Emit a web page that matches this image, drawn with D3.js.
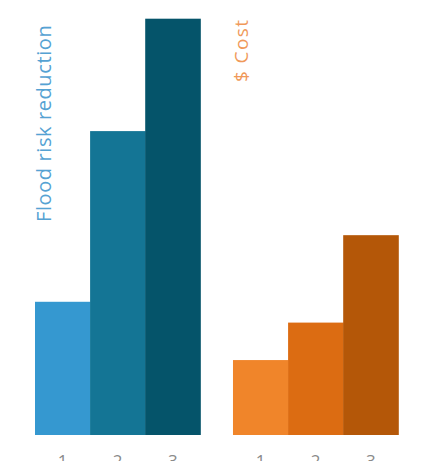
<!DOCTYPE html>
<html>
<head>
<meta charset="utf-8">
<script src="https://cdn.jsdelivr.net/npm/d3@7"></script>
<style>
  html, body { margin: 0; padding: 0; background: #ffffff; }
  svg { display: block; }
</style>
</head>
<body>
<svg id="chart" width="436" height="461"></svg>
<script>
// Two grouped bar sets: flood risk reduction vs. cost, for options 1–3
const groups = ["Flood risk reduction", "$ Cost"];
const options = ["1", "2", "3"];
const floodValues = [32, 73, 100];
const costValues = [18, 27, 48];
const floodColors = ["#3598d0", "#147595", "#05546a"];
const costColors = ["#f0852a", "#dc6c12", "#b45708"];
const titleColors = ["#55a2d3", "#f0995a"];

const seriesValues = [floodValues, costValues];
const seriesColors = [floodColors, costColors];

// per-title typography
const titleSize = [20, 19];
const titleSpacing = [0.6, 1.4];
const titleBottom = [222, 82];

const svg = d3.select("#chart");

const baseY = 435;
const topY = 18.7;

const x0 = d3.scaleBand()
  .domain(groups)
  .range([35, 398.3])
  .paddingInner(0.165)
  .paddingOuter(0);

const x1 = d3.scaleBand()
  .domain(options)
  .range([0, x0.bandwidth()])
  .padding(0);

const y = d3.scaleLinear()
  .domain([0, 100])
  .range([baseY, topY]);

groups.forEach((g, gi) => {
  const grp = svg.append("g")
    .attr("transform", `translate(${x0(g)},0)`);

  grp.selectAll("rect")
    .data(seriesValues[gi])
    .join("rect")
    .attr("x", (d, i) => x1(options[i]))
    .attr("y", d => y(d))
    .attr("width", x1.bandwidth() + 0.5)
    .attr("height", d => y(0) - y(d))
    .attr("fill", (d, i) => seriesColors[gi][i]);

  // option labels under each bar
  const axis = d3.axisBottom(x1).tickSize(0).tickPadding(0);
  const ax = grp.append("g")
    .attr("transform", `translate(0,${baseY})`)
    .call(axis);
  ax.select(".domain").remove();
  ax.selectAll("text")
    .attr("dy", 0)
    .attr("y", 32)
    .attr("fill", "#8a8a8a")
    .style("font-family", "'Open Sans', sans-serif")
    .style("font-size", "17px");

  // vertical group title
  const tx = x0(g) + 15.5;
  svg.append("text")
    .attr("transform", `translate(${tx},${titleBottom[gi]}) rotate(-90)`)
    .attr("text-anchor", "start")
    .attr("fill", titleColors[gi])
    .style("font-family", "'Open Sans', sans-serif")
    .style("font-size", titleSize[gi] + "px")
    .style("letter-spacing", titleSpacing[gi] + "px")
    .text(g);
});
</script>
</body>
</html>
